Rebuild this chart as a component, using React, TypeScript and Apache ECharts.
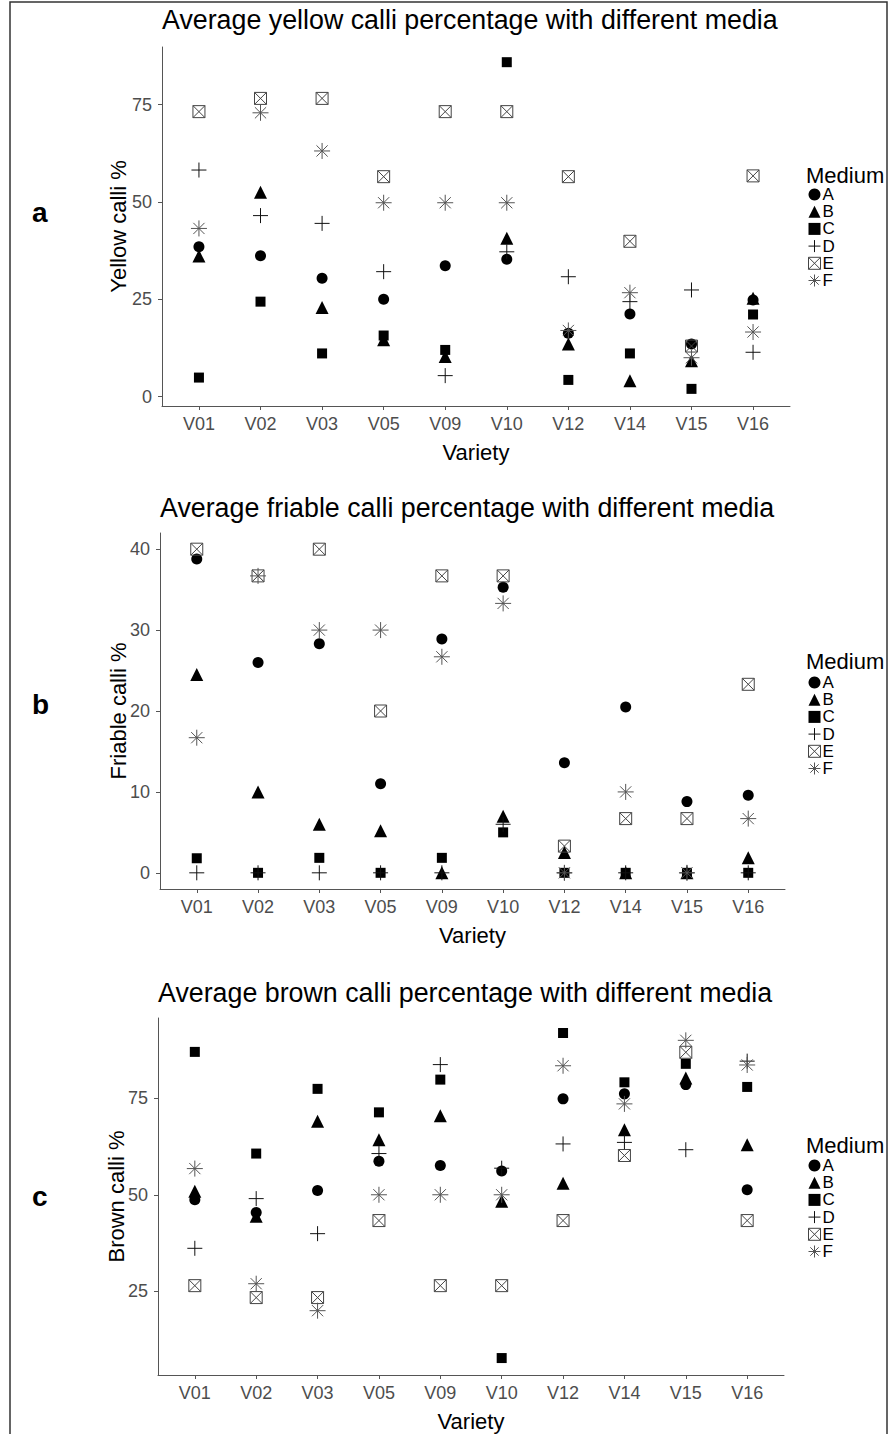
import React, { useEffect, useRef } from "react";
import * as echarts from "echarts";

const varieties = ["V01", "V02", "V03", "V05", "V09", "V10", "V12", "V14", "V15", "V16"];
const media = ["A", "B", "C", "D", "E", "F"];

// Yellow calli %
const yellowA = [38.5, 36.2, 30.4, 25.0, 33.6, 35.3, 16.3, 21.2, 13.5, 24.8];
const yellowB = [36.1, 52.5, 22.9, 14.6, 10.3, 40.7, 13.5, 4.1, 9.2, 25.3];
const yellowC = [4.9, 24.4, 11.1, 15.7, 12.0, 85.9, 4.3, 11.1, 2.0, 21.1];
const yellowD = [58.2, 46.5, 44.5, 32.1, 5.4, 37.2, 30.8, 24.4, 27.4, 11.4];
const yellowE = [73.2, 76.6, 76.6, 56.5, 73.2, 73.2, 56.5, 39.9, 13.0, 56.7];
const yellowF = [43.2, 72.9, 63.1, 49.8, 49.8, 49.8, 17.0, 26.7, 10.0, 16.6];

// Friable calli %
const friableA = [38.8, 26.0, 28.3, 11.0, 28.9, 35.3, 13.6, 20.5, 8.8, 9.6];
const friableB = [24.5, 10.0, 6.0, 5.2, 0, 7.0, 2.5, 0, 0, 1.85];
const friableC = [1.8, 0, 1.85, 0, 1.85, 5.0, 0, 0, 0, 0];
const friableD = [0, 0, 0, 0, 0, 6.0, 0, 0, 0, 0];
const friableE = [40, 36.7, 40, 20, 36.7, 36.7, 3.3, 6.7, 6.7, 23.3];
const friableF = [16.7, 36.7, 30, 30, 26.7, 33.3, 0, 10, 0, 6.7];

// Brown calli %
const brownA = [48.7, 45.4, 51.1, 58.7, 57.6, 56.2, 74.9, 76.2, 78.6, 51.3];
const brownB = [50.9, 44.4, 69.1, 64.3, 70.5, 48.3, 53.0, 66.9, 80.3, 63.0];
const brownC = [87.1, 60.7, 77.5, 71.4, 79.9, 7.6, 92.0, 79.2, 84.0, 78.0];
const brownD = [36.1, 49.0, 39.9, 60.7, 83.8, 56.9, 63.2, 63.6, 61.7, 84.7];
const brownE = [26.4, 23.3, 23.3, 43.3, 26.4, 26.4, 43.3, 60.2, 87.0, 43.3];
const brownF = [56.8, 26.9, 19.9, 50.0, 50.0, 50.0, 83.5, 73.6, 90.1, 83.7];

const yellowTicks = [0, 25, 50, 75];
const friableTicks = [0, 10, 20, 30, 40];
const brownTicks = [25, 50, 75];

const panels = [
  {
    letter: "a",
    title: "Average yellow calli percentage with different media",
    yName: "Yellow calli %",
    series: [yellowA, yellowB, yellowC, yellowD, yellowE, yellowF],
    ticks: yellowTicks,
  },
  {
    letter: "b",
    title: "Average friable calli percentage with different media",
    yName: "Friable calli %",
    series: [friableA, friableB, friableC, friableD, friableE, friableF],
    ticks: friableTicks,
  },
  {
    letter: "c",
    title: "Average brown calli percentage with different media",
    yName: "Brown calli %",
    series: [brownA, brownB, brownC, brownD, brownE, brownF],
    ticks: brownTicks,
  },
];

const FONT = "'Liberation Sans', Arial, Helvetica, sans-serif";

const PLUS = "path://M0,5L10,5M5,0L5,10";
const BOXX = "path://M0,0L10,0L10,10L0,10ZM0,0L10,10M10,0L0,10";
const STAR = "path://M0,5L10,5M5,0L5,10M1.5,1.5L8.5,8.5M8.5,1.5L1.5,8.5";

const symbolDefs = [
  { symbol: "circle", size: 11, itemStyle: { color: "#000", opacity: 1 } },
  { symbol: "triangle", size: 13, itemStyle: { color: "#000", opacity: 1 } },
  { symbol: "rect", size: 10, itemStyle: { color: "#000", opacity: 1 } },
  { symbol: PLUS, size: 15, itemStyle: { color: "rgba(0,0,0,0)", borderColor: "#111", borderWidth: 1, opacity: 1 } },
  { symbol: BOXX, size: 12, itemStyle: { color: "rgba(0,0,0,0)", borderColor: "#444", borderWidth: 1, opacity: 1 } },
  { symbol: STAR, size: 16, itemStyle: { color: "rgba(0,0,0,0)", borderColor: "#555", borderWidth: 1, opacity: 1 } },
];

const layout = [
  { grid: { left: 162, top: 47, width: 628, height: 359 }, yMin: -2.4, yMax: 89.8, yGap: 33, titleTop: 6, legendTop: 186, mediumTop: 164, letterTop: 198 },
  { grid: { left: 160, top: 533, width: 625, height: 356 }, yMin: -2, yMax: 42, yGap: 31, titleTop: 494, legendTop: 674, mediumTop: 650, letterTop: 690 },
  { grid: { left: 158, top: 1018, width: 626, height: 357 }, yMin: 3.2, yMax: 95.9, yGap: 31, titleTop: 979, legendTop: 1157, mediumTop: 1134, letterTop: 1182 },
];

export default function App() {
  const ref = useRef<HTMLDivElement>(null);

  useEffect(() => {
    if (!ref.current) return;
    const chart = echarts.init(ref.current, null, { renderer: "svg" });
    const idx = varieties.map((_, i) => i);

    const grids: any[] = [];
    const xAxes: any[] = [];
    const yAxes: any[] = [];
    const titles: any[] = [];
    const legends: any[] = [];
    const series: any[] = [];

    panels.forEach((p, k) => {
      const L = layout[k];
      grids.push({ ...L.grid, containLabel: false });
      xAxes.push({
        gridIndex: k,
        type: "value",
        min: -0.6,
        max: 9.6,
        name: "Variety",
        nameLocation: "middle",
        nameGap: 35,
        nameMoveOverlap: false,
        nameTextStyle: { fontSize: 22, color: "#000", fontFamily: FONT },
        axisLine: { show: true, onZero: false, lineStyle: { color: "#555", width: 1 } },
        axisTick: { show: true, customValues: idx, length: 4, lineStyle: { color: "#555" } },
        axisLabel: {
          customValues: idx,
          formatter: (v: number) => varieties[Math.round(v)] ?? "",
          color: "#4d4d4d",
          fontSize: 18,
          fontFamily: FONT,
          margin: 9,
        },
        splitLine: { show: false },
      });
      yAxes.push({
        gridIndex: k,
        type: "value",
        min: L.yMin,
        max: L.yMax,
        name: p.yName,
        nameLocation: "middle",
        nameGap: L.yGap,
        nameMoveOverlap: false,
        nameTextStyle: { fontSize: 22, color: "#000", fontFamily: FONT },
        axisLine: { show: true, onZero: false, lineStyle: { color: "#555", width: 1 } },
        axisTick: { show: true, customValues: p.ticks, length: 4, lineStyle: { color: "#555" } },
        axisLabel: {
          customValues: p.ticks,
          color: "#4d4d4d",
          fontSize: 18,
          fontFamily: FONT,
          margin: 10,
        },
        splitLine: { show: false },
      });
      titles.push({
        text: p.title,
        left: L.grid.left,
        top: L.titleTop,
        padding: 0,
        textStyle: { fontSize: 26.8, fontWeight: "normal", color: "#000", fontFamily: FONT },
      });
      titles.push({
        text: "Medium",
        left: 806,
        top: L.mediumTop,
        padding: 0,
        textStyle: { fontSize: 22, fontWeight: "normal", color: "#000", fontFamily: FONT },
      });
      titles.push({
        text: p.letter,
        left: 32,
        top: L.letterTop,
        padding: 0,
        textStyle: { fontSize: 28, fontWeight: "bold", color: "#000", fontFamily: FONT },
      });
      legends.push({
        orient: "vertical",
        left: 808,
        top: L.legendTop,
        padding: 0,
        itemGap: 0.2,
        itemWidth: 12,
        itemHeight: 12,
        selectedMode: false,
        textStyle: { fontSize: 17, lineHeight: 17, color: "#000", fontFamily: FONT, padding: [0, 0, 0, -3] },
        data: media.map((m, j) => ({
          name: m,
          icon: symbolDefs[j].symbol,
          itemStyle: symbolDefs[j].itemStyle,
        })),
      });
      p.series.forEach((vals, j) => {
        const d = symbolDefs[j];
        series.push({
          name: media[j],
          type: "scatter",
          xAxisIndex: k,
          yAxisIndex: k,
          symbol: d.symbol,
          symbolSize: d.size,
          itemStyle: d.itemStyle,
          emphasis: { disabled: true },
          data: vals.map((v, i) => [i, v]),
        });
      });
    });

    chart.setOption({
      animation: false,
      backgroundColor: "#fff",
      textStyle: { fontFamily: FONT },
      title: titles,
      legend: legends,
      grid: grids,
      xAxis: xAxes,
      yAxis: yAxes,
      series,
      graphic: [
        {
          type: "rect",
          silent: true,
          shape: { x: 10, y: 2, width: 877, height: 1440 },
          style: { fill: "none", stroke: "#333", lineWidth: 1.5 },
        },
      ],
    });
    return () => chart.dispose();
  }, []);

  return (
    <div
      ref={ref}
      style={{ position: "absolute", left: 0, top: 0, width: 890, height: 1434, background: "#fff" }}
    />
  );
}
